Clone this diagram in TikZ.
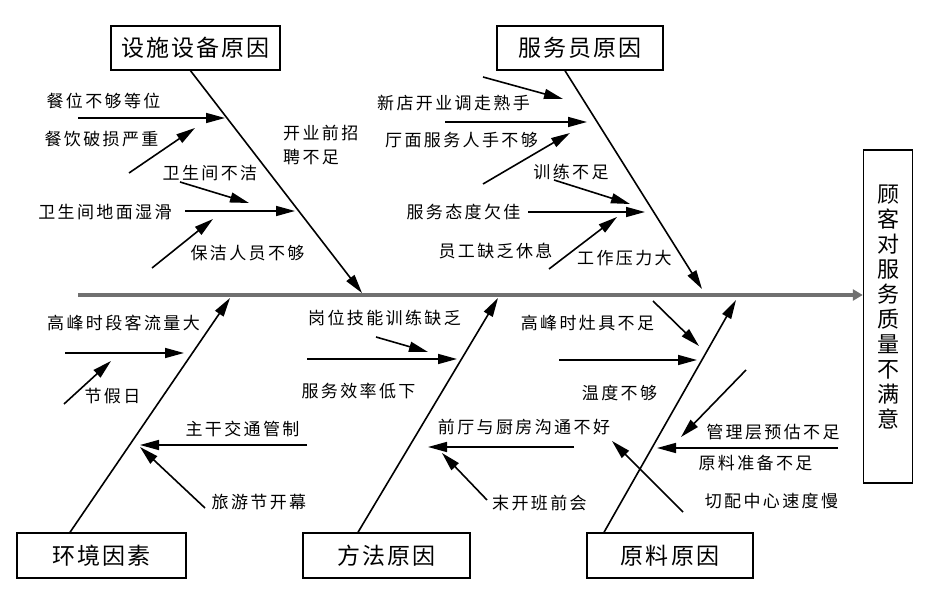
\documentclass[tikz,border=0pt]{standalone}
\usepackage{fontspec}
\usetikzlibrary{arrows.meta}
\newfontfamily\cjk[LetterSpace=14]{Noto Sans CJK SC}
\newfontfamily\cjkb[LetterSpace=9]{Noto Sans CJK SC}
\newfontfamily\cjkv{Noto Sans CJK SC}
\definecolor{spinegray}{RGB}{112,112,112}
\begin{document}
\begin{tikzpicture}[x=1pt,y=-1pt,
  lbl/.style={inner sep=0pt, font=\cjk\fontsize{17}{24}\selectfont},
  box/.style={draw, line width=1.4pt, inner sep=0pt, minimum height=44pt, font=\cjkb\fontsize{23}{26}\selectfont},
  arr/.style={line width=1.6pt, -{Triangle[length=19pt,width=10pt]}},
  spine/.style={line width=4pt, draw=spinegray, -{Triangle[length=10pt,width=11pt]}}]
\useasboundingbox (0,0) rectangle (927,593);

% boxes
\node[box, minimum width=169pt] (b1) at (195.5,48) {设施设备原因};
\node[box, minimum width=166pt] (b2) at (580,48) {服务员原因};
\node[box, minimum width=169pt, minimum height=45pt] (b3) at (101.5,555.5) {环境因素};
\node[box, minimum width=167pt, minimum height=45pt] (b4) at (386.5,555.5) {方法原因};
\node[box, minimum width=166pt, minimum height=45pt] (b5) at (670,555.5) {原料原因};
\node[draw, line width=1.4pt, inner sep=0pt, minimum width=49pt, minimum height=333pt] (goal) at (888,316.5) {};
\node[inner sep=0pt, align=center, font=\cjkv\fontsize{22}{25}\selectfont] (goaltext) at (888,307)
  {顾\\客\\对\\服\\务\\质\\量\\不\\满\\意};

% main spine
\coordinate (m0) at (78,295);
\draw[spine] (m0) -- (goal.west |- m0);

% branch spines
\coordinate (s1) at (362,293);
\coordinate (s2) at (702,289);
\coordinate (s3) at (230,298);
\coordinate (s4) at (498,298);
\coordinate (s5) at (736,300);
\draw[arr] ([xshift=-5pt]b1.south) -- (s1);
\draw[arr] ([xshift=-15pt]b2.south) -- (s2);
\draw[arr] ([xshift=-31.5pt]b3.north) -- (s3);
\draw[arr] ([xshift=-28.5pt]b4.north) -- (s4);
\draw[arr] ([xshift=-66pt]b5.north) -- (s5);

% sub-arrow coordinates
\coordinate (a1s) at (78,118);   \coordinate (a1e) at (225,118);
\coordinate (a2s) at (129,173);  \coordinate (a2e) at (195,128);
\coordinate (a3s) at (180,182);  \coordinate (a3e) at (249,203);
\coordinate (a4s) at (185,211);  \coordinate (a4e) at (295,211);
\coordinate (a5s) at (152,268);  \coordinate (a5e) at (213,219);
\coordinate (a6s) at (483,77);   \coordinate (a6e) at (563,99);
\coordinate (a7s) at (445,122);  \coordinate (a7e) at (587,122);
\coordinate (a8s) at (483,184);  \coordinate (a8e) at (570,133);
\coordinate (a9s) at (554,180);  \coordinate (a9e) at (630,204);
\coordinate (a10s) at (528,212); \coordinate (a10e) at (645,212);
\coordinate (a11s) at (549,269); \coordinate (a11e) at (617,217);
\coordinate (a12s) at (65,353);  \coordinate (a12e) at (184,353);
\coordinate (a13s) at (64,404);  \coordinate (a13e) at (111,361);
\coordinate (a14s) at (307,445); \coordinate (a14e) at (140,445);
\coordinate (a15s) at (205,508); \coordinate (a15e) at (140,447);
\coordinate (a16s) at (376,337); \coordinate (a16e) at (428,352);
\coordinate (a17s) at (307,359); \coordinate (a17e) at (457,359);
\coordinate (a18s) at (574,447); \coordinate (a18e) at (428,447);
\coordinate (a19s) at (487,500); \coordinate (a19e) at (442,453);
\coordinate (a20s) at (653,301); \coordinate (a20e) at (699,346);
\coordinate (a21s) at (559,360); \coordinate (a21e) at (697,360);
\coordinate (a22s) at (746,370); \coordinate (a22e) at (681,437);
\coordinate (a23s) at (838,448); \coordinate (a23e) at (657,448);
\coordinate (a24s) at (683,512); \coordinate (a24e) at (612,441);

\foreach \i in {1,...,24} {\draw[arr] (a\i s) -- (a\i e);}

% labels
\node[lbl] (t1) at (103.5,101) {餐位不够等位};
\node[lbl] (t2) at (101.5,139) {餐饮破损严重};
\node[lbl] (t3) at (210,173) {卫生间不洁};
\node[lbl] (t4) at (105,212) {卫生间地面湿滑};
\node[lbl] (t5) at (247.5,253) {保洁人员不够};
\node[lbl, align=left, anchor=west] (t6) at (283,145) {开业前招\\聘不足};
\node[lbl] (t7) at (453.5,103) {新店开业调走熟手};
\node[lbl] (t8) at (461.5,140) {厅面服务人手不够};
\node[lbl] (t9) at (571,172) {训练不足};
\node[lbl] (t10) at (463.5,212) {服务态度欠佳};
\node[lbl] (t11) at (495.5,251) {员工缺乏休息};
\node[lbl] (t12) at (624.5,258) {工作压力大};
\node[lbl] (t13) at (123.5,323) {高峰时段客流量大};
\node[lbl] (t14) at (112.5,396) {节假日};
\node[lbl] (t15) at (242.5,429) {主干交通管制};
\node[lbl] (t16) at (259,502) {旅游节开幕};
\node[lbl] (t17) at (384.5,318) {岗位技能训练缺乏};
\node[lbl] (t18) at (358.5,391) {服务效率低下};
\node[lbl] (t19) at (524,427) {前厅与厨房沟通不好};
\node[lbl] (t20) at (539.5,503) {末开班前会};
\node[lbl] (t21) at (587.5,323) {高峰时灶具不足};
\node[lbl] (t22) at (619.5,393) {温度不够};
\node[lbl] (t23) at (773,432) {管理层预估不足};
\node[lbl] (t24) at (755.5,463) {原料准备不足};
\node[lbl] (t25) at (771.5,501) {切配中心速度慢};
\end{tikzpicture}
\end{document}
